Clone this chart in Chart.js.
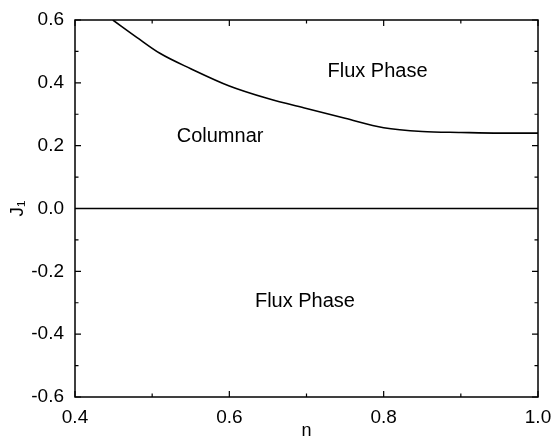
<!DOCTYPE html>
<html>
<head>
<meta charset="utf-8">
<script src="https://cdn.jsdelivr.net/npm/chart.js@4"></script>
<style>
  html, body { margin: 0; padding: 0; background: #fff; }
</style>
</head>
<body>
<canvas id="myChart" width="553" height="439"></canvas>
<script>
// phase boundary
const nValues = [0.449, 0.48, 0.51, 0.55, 0.6, 0.65, 0.7, 0.75, 0.8, 0.85, 0.9, 0.95, 1.0];
const jValues = [0.6, 0.545, 0.494, 0.445, 0.39, 0.35, 0.318, 0.287, 0.257, 0.245, 0.242, 0.24, 0.24];

// horizontal line at J1 = 0
const zeroN = [0.4, 1.0];
const zeroJ = [0, 0];

// region labels [n, J1, text]
const regionLabels = [
    [0.792, 0.436, 'Flux Phase'],
    [0.588, 0.229, 'Columnar'],
    [0.698, -0.296, 'Flux Phase']
];

const xTicks = [0.4, 0.6, 0.8, 1.0];
const yTicks = [-0.6, -0.4, -0.2, 0.0, 0.2, 0.4, 0.6];

const FONT = 'Liberation Sans, Arial, Helvetica, sans-serif';

// ticks pointing inward on all four sides + frame + region texts
const framePlugin = {
    id: 'frame',
    afterDraw(chart) {
        const c = chart.ctx;
        const a = chart.chartArea;
        const xs = chart.scales.x, ys = chart.scales.y;
        c.save();
        c.strokeStyle = '#000';
        c.lineWidth = 1.5;
        c.strokeRect(a.left, a.top, a.right - a.left, a.bottom - a.top);
        c.lineWidth = 1.2;
        for (let v = 0.4; v <= 1.0001; v += 0.1) {
            const major = Math.abs(Math.round(v * 10) % 2) === 0;
            const len = major ? 6 : 3.5;
            const px = xs.getPixelForValue(v);
            c.beginPath();
            c.moveTo(px, a.bottom); c.lineTo(px, a.bottom - len);
            c.moveTo(px, a.top); c.lineTo(px, a.top + len);
            c.stroke();
        }
        for (let v = -0.6; v <= 0.6001; v += 0.1) {
            const major = Math.abs(Math.round(v * 10) % 2) === 0;
            const len = major ? 6 : 3.5;
            const py = ys.getPixelForValue(v);
            c.beginPath();
            c.moveTo(a.left, py); c.lineTo(a.left + len, py);
            c.moveTo(a.right, py); c.lineTo(a.right - len, py);
            c.stroke();
        }
        c.fillStyle = '#000';
        c.font = '20px ' + FONT;
        c.textAlign = 'center';
        c.textBaseline = 'middle';
        regionLabels.forEach(l => {
            c.fillText(l[2], xs.getPixelForValue(l[0]), ys.getPixelForValue(l[1]));
        });
        c.restore();
    }
};

const ctx = document.getElementById('myChart');

new Chart(ctx, {
    type: 'line',
    data: {
        datasets: [{
            data: nValues.map((n, i) => ({ x: n, y: jValues[i] })),
            borderColor: '#000',
            borderWidth: 1.6,
            pointRadius: 0,
            cubicInterpolationMode: 'monotone',
            fill: false
        }, {
            data: zeroN.map((n, i) => ({ x: n, y: zeroJ[i] })),
            borderColor: '#000',
            borderWidth: 1.5,
            pointRadius: 0,
            fill: false
        }]
    },
    options: {
        responsive: false,
        animation: false,
        layout: { padding: { top: 20, right: 15, left: 0, bottom: 0 } },
        plugins: {
            legend: { display: false },
            tooltip: { enabled: false }
        },
        scales: {
            x: {
                type: 'linear',
                min: 0.4,
                max: 1.0,
                grid: { display: false },
                border: { display: false },
                afterBuildTicks: s => { s.ticks = xTicks.map(v => ({ value: v })); },
                afterFit: s => { s.height = 42; },
                ticks: {
                    color: '#000',
                    padding: 1,
                    font: { family: FONT, size: 19 },
                    maxRotation: 0,
                    callback: v => v.toFixed(1)
                },
                title: {
                    display: true,
                    text: 'n',
                    color: '#000',
                    padding: { top: 0, bottom: -3 },
                    font: { family: FONT, size: 18 }
                }
            },
            y: {
                type: 'linear',
                min: -0.6,
                max: 0.6,
                grid: { display: false },
                border: { display: false },
                afterBuildTicks: s => { s.ticks = yTicks.map(v => ({ value: v })); },
                afterFit: s => { s.width = 75; },
                ticks: {
                    color: '#000',
                    padding: 3,
                    font: { family: FONT, size: 19 },
                    callback: v => v.toFixed(1)
                },
                title: {
                    display: true,
                    text: 'J₁',
                    color: '#000',
                    padding: { top: 6, bottom: 0 },
                    font: { family: FONT, size: 19 }
                }
            }
        }
    },
    plugins: [framePlugin]
});
</script>
</body>
</html>
